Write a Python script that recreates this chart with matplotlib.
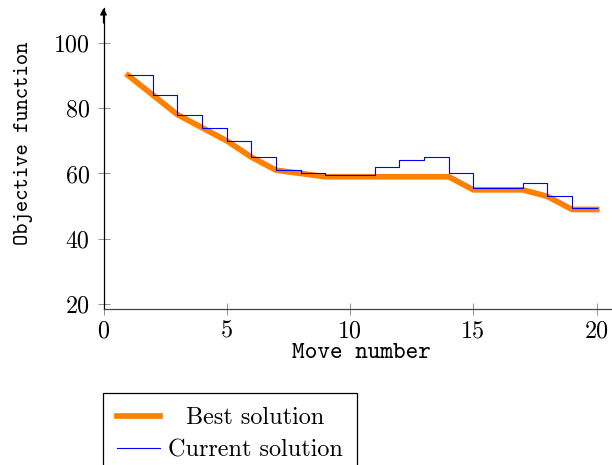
import matplotlib
matplotlib.use("Agg")
import matplotlib.pyplot as plt

moves = [1, 2, 3, 4, 5, 6, 7, 8, 9, 10, 11, 12, 13, 14, 15, 16, 17, 18, 19, 20]
best = [90, 84, 78, 74, 70, 65, 61, 60, 59, 59, 59, 59, 59, 59, 55, 55, 55, 53, 49, 49]
current = [90, 84, 78, 74, 70, 65, 61, 60, 59.5, 59.5, 62, 64, 65, 60, 55.5, 55.5, 57, 53, 49.5, 49.5]
xticks = [0, 5, 10, 15, 20]
yticks = [20, 40, 60, 80, 100]

plt.rcParams['axes.formatter.use_mathtext'] = True
plt.rcParams['mathtext.fontset'] = 'cm'

fig = plt.figure(figsize=(6.12, 4.65), dpi=100)
ax = fig.add_axes([103.5 / 612, 1 - 308.7 / 465, (612 - 103.5) / 612, (308.7 - 8) / 465])

ax.plot(moves, best, color='#FF8000', lw=4.1, label='Best solution', zorder=2)
ax.step(moves, current, where='post', color='#0000FF', lw=0.8, label='Current solution', zorder=3)

ax.set_xlim(0, 20.62)
ax.set_ylim(18.65, 110.6)
ax.set_xticks(xticks)
ax.set_yticks(yticks)
ax.set_xticklabels([str(v) for v in xticks], family='cmr10', fontsize=17.3)
ax.set_yticklabels([str(v) for v in yticks], family='cmr10', fontsize=17.3)
ax.tick_params(direction='inout', length=8, width=0.6, color='#808080')
ax.tick_params(axis='x', pad=4.5)
ax.tick_params(axis='y', pad=6)

for s in ['top', 'right']:
    ax.spines[s].set_visible(False)
ax.spines['left'].set_linewidth(0.9)
ax.spines['bottom'].set_linewidth(0.9)
ax.spines['bottom'].set_color('#444444')

ax.annotate('', xy=(0, 1.0), xytext=(0, 0.95), xycoords='axes fraction',
            arrowprops=dict(arrowstyle='-|>', color='black', lw=0.9,
                            mutation_scale=10, shrinkA=0, shrinkB=0))

ax.set_xlabel('Move number', family='cmtt10', fontsize=17.3)
ax.set_ylabel('Objective function', family='cmtt10', fontsize=15.5)
ax.xaxis.set_label_coords(0.507, -0.114)
ax.yaxis.set_label_coords(-0.1386, 0.551)

leg = fig.legend(loc='upper left', bbox_to_anchor=(103.3 / 612, 1 - 393.3 / 465),
                 prop={'family': 'cmr10', 'size': 17.4}, frameon=True, fancybox=False,
                 edgecolor='black', framealpha=1, handlelength=1.76, handletextpad=0.34,
                 borderpad=0.58, labelspacing=0.42, borderaxespad=0)
leg.get_frame().set_linewidth(0.9)

# centre the legend entries in their column, as in the original
fig.canvas.draw()
renderer = fig.canvas.get_renderer()
texts = leg.get_texts()
widths = [t.get_window_extent(renderer).width for t in texts]
wmax = max(widths)
for t, w in zip(texts, widths):
    t.set_position(((wmax - w) / 2, 0))

fig.savefig('out.png', dpi=100)
